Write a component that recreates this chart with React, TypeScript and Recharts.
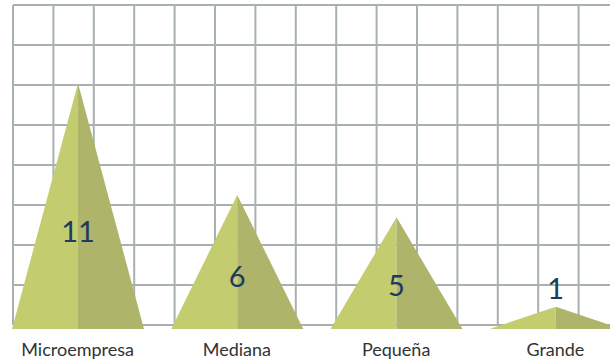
import React from "react";
import { BarChart, Bar, XAxis, YAxis, CartesianGrid, LabelList } from "recharts";

const CATEGORIES = ["Microempresa", "Mediana", "Pequeña", "Grande"];
const VALUES = [11, 6, 5, 1];

const LIGHT = "#c4cc70";
const DARK = "#aeb56a";
const NAVY = "#1e3a5c";
const FONT = "Lato, 'Open Sans', sans-serif";

const data = CATEGORIES.map((name, i) => ({ name, value: VALUES[i] }));

// grid is decoration only: 40px squares from the top-left corner of the box
const GRID_X = 15;
const GRID_Y = 5;
const vPoints = Array.from({ length: 16 }, (_, k) => GRID_X + k * 40.4);
const hPoints = Array.from({ length: 9 }, (_, k) => GRID_Y + k * 40);

function Pyramid(props: any) {
  const { x, y, width, height } = props;
  if (!height || height <= 0) return null;
  const mid = x + width / 2;
  const base = y + height;
  return (
    <g>
      <polygon points={`${x},${base} ${mid},${y} ${mid},${base}`} fill={LIGHT} />
      <polygon points={`${mid},${y} ${x + width},${base} ${mid},${base}`} fill={DARK} />
    </g>
  );
}

function ValueLabel(props: any) {
  const { x, y, width, height, value } = props;
  const cx = x + width / 2;
  // small pyramids get their number above the tip
  const cy = height > 60 ? y + height - 0.4 * height : y - 19;
  return (
    <text x={cx} y={cy} textAnchor="middle" dominantBaseline="central" fill={NAVY} fontSize={29} fontFamily={FONT}>
      {value}
    </text>
  );
}

function CategoryTick(props: any) {
  const { x, y, payload } = props;
  return (
    <text x={x} y={y + 19} textAnchor="middle" fill="#333" fontSize={18} fontFamily={FONT}>
      {payload.value}
    </text>
  );
}

export default function App() {
  return (
    <div style={{ position: "fixed", left: 0, top: 0, width: 610, height: 360, overflow: "hidden", background: "#fff" }}>
      <div style={{ position: "absolute", left: -2, top: 0 }}>
        <BarChart width={640} height={360} data={data} margin={{ top: 5, right: 3, bottom: 0, left: 0 }}>
          <CartesianGrid
            x={GRID_X}
            y={GRID_Y}
            width={640}
            height={320}
            horizontalPoints={hPoints}
            verticalPoints={vPoints}
            stroke="#a7b1b1"
            strokeWidth={2}
          />
          <XAxis dataKey="name" height={31} axisLine={false} tickLine={false} tick={<CategoryTick />} interval={0} />
          <YAxis hide domain={[0, 14.5]} />
          <Bar dataKey="value" barSize={132} shape={<Pyramid />} isAnimationActive={false}>
            <LabelList dataKey="value" content={<ValueLabel />} />
          </Bar>
        </BarChart>
      </div>
    </div>
  );
}
